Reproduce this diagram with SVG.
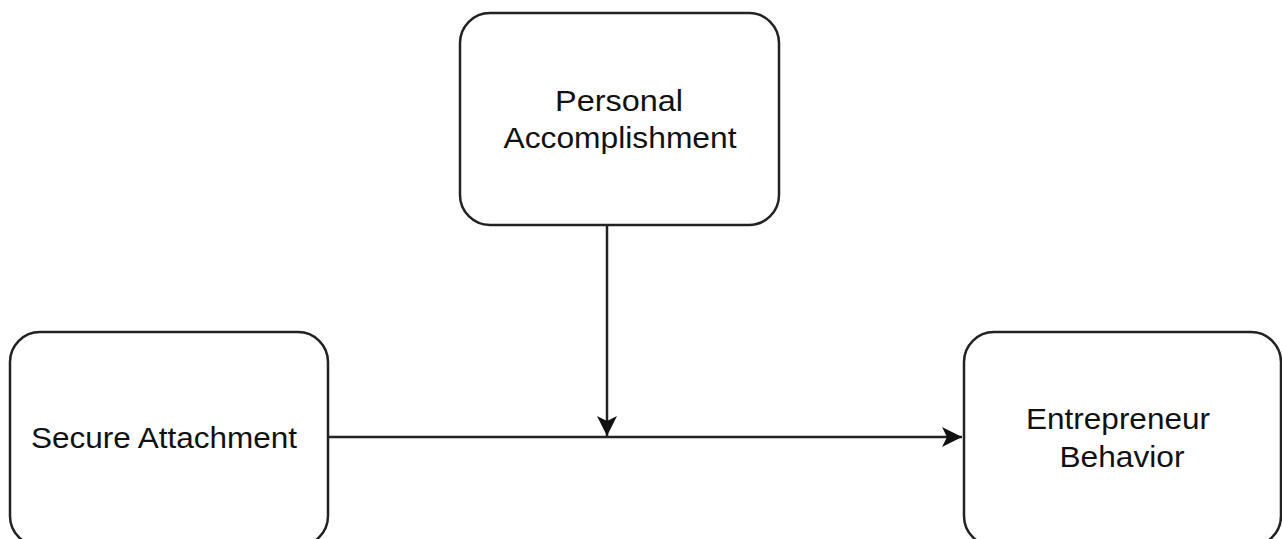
<svg xmlns="http://www.w3.org/2000/svg" width="1282" height="539" viewBox="0 0 1282 539">
<style>
.box{fill:#fff;stroke:#222;stroke-width:2.5}
.lbl{font-family:"Liberation Sans",Arial,sans-serif;font-size:30px;fill:#111;text-anchor:middle}
.edge{stroke:#222;stroke-width:2.5;fill:none}
</style>
<defs>
<marker id="arr" markerUnits="userSpaceOnUse" markerWidth="24" markerHeight="24" viewBox="0 0 24 24" refX="22" refY="12" orient="auto">
<path d="M2,2 L22,12 L2,22 L7,12 Z" fill="#111"/>
</marker>
</defs>
<rect width="1282" height="539" fill="#fff"/>
<g id="personal-accomplishment">
<rect class="box" x="460" y="13" width="319" height="212" rx="30"/>
<text class="lbl" x="619" y="111" textLength="128" lengthAdjust="spacingAndGlyphs">Personal</text>
<text class="lbl" x="620" y="148" textLength="233" lengthAdjust="spacingAndGlyphs">Accomplishment</text>
</g>
<g id="secure-attachment">
<rect class="box" x="10" y="332" width="318" height="214" rx="30"/>
<text class="lbl" x="164" y="448" textLength="266" lengthAdjust="spacingAndGlyphs">Secure Attachment</text>
</g>
<g id="entrepreneur-behavior">
<rect class="box" x="964" y="332" width="317" height="214" rx="30"/>
<text class="lbl" x="1118" y="429" textLength="184" lengthAdjust="spacingAndGlyphs">Entrepreneur</text>
<text class="lbl" x="1122" y="467" textLength="125" lengthAdjust="spacingAndGlyphs">Behavior</text>
</g>
<g id="connectors">
<line class="edge" x1="328" y1="437" x2="962" y2="437" marker-end="url(#arr)"/>
<line class="edge" x1="607" y1="225" x2="607" y2="436" marker-end="url(#arr)"/>
</g>
</svg>
